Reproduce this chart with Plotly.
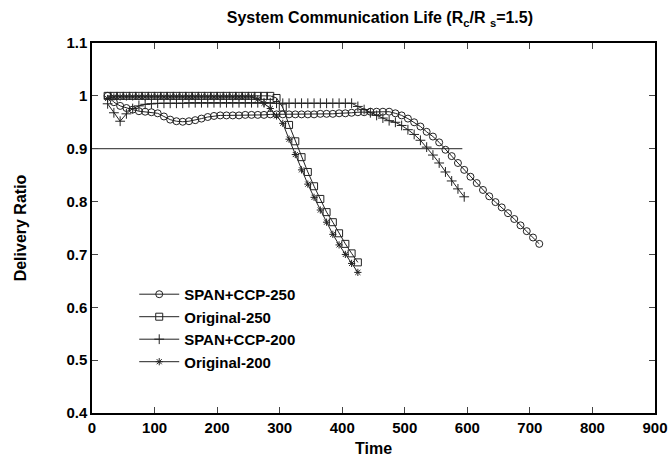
import plotly.graph_objects as go

# time samples and delivery ratios
t_span250 = list(range(25, 716, 10))
span_ccp_250 = [
    1.0, 0.988, 0.981, 0.977, 0.974, 0.971, 0.970, 0.969, 0.967, 0.961,
    0.955, 0.952, 0.951, 0.952, 0.954, 0.957, 0.960, 0.962, 0.963, 0.963,
    0.963, 0.963, 0.964, 0.964, 0.964, 0.964, 0.965, 0.965, 0.965, 0.965,
    0.965, 0.965, 0.965, 0.965, 0.966, 0.966, 0.966, 0.967, 0.967, 0.968,
    0.969, 0.969, 0.970, 0.970, 0.970, 0.970, 0.967, 0.963, 0.957, 0.950,
    0.942, 0.932, 0.923, 0.912, 0.898, 0.886, 0.873, 0.860, 0.847, 0.835,
    0.822, 0.810, 0.799, 0.789, 0.778, 0.767, 0.755, 0.744, 0.732, 0.720,
]

t_orig250 = list(range(25, 426, 10))
original_250 = [
    1.0, 1.0, 1.0, 1.0, 1.0, 1.0, 1.0, 1.0, 1.0, 1.0,
    1.0, 1.0, 1.0, 1.0, 1.0, 1.0, 1.0, 1.0, 1.0, 1.0,
    1.0, 1.0, 1.0, 1.0, 1.0, 1.0, 1.0, 0.996, 0.978, 0.945,
    0.914, 0.884, 0.856, 0.829, 0.805, 0.780, 0.761, 0.740, 0.720, 0.702,
    0.685,
]

t_span200 = list(range(25, 596, 10))
span_ccp_200 = [
    0.985, 0.968, 0.952, 0.966, 0.976, 0.981, 0.984, 0.985, 0.986, 0.986,
    0.986, 0.986, 0.986, 0.987, 0.987, 0.987, 0.987, 0.987, 0.987, 0.987,
    0.987, 0.987, 0.987, 0.987, 0.987, 0.987, 0.987, 0.986, 0.986, 0.986,
    0.986, 0.986, 0.986, 0.986, 0.986, 0.986, 0.986, 0.986, 0.986, 0.986,
    0.980, 0.974, 0.968, 0.963, 0.958, 0.953, 0.950, 0.944, 0.936, 0.927,
    0.916, 0.903, 0.888, 0.873, 0.856, 0.839, 0.824, 0.809,
]

t_orig200 = list(range(25, 426, 10))
original_200 = [
    0.995, 0.998, 0.998, 0.998, 0.998, 0.998, 0.998, 0.998, 0.998, 0.998,
    0.998, 0.998, 0.998, 0.998, 0.998, 0.998, 0.998, 0.998, 0.998, 0.998,
    0.998, 0.998, 0.998, 0.998, 0.994, 0.986, 0.976, 0.962, 0.948, 0.918,
    0.889, 0.860, 0.833, 0.808, 0.784, 0.761, 0.738, 0.718, 0.700, 0.683,
    0.666,
]

# 0.9 threshold line
t_threshold = [0, 592]
threshold = [0.9, 0.9]

font_family = "Liberation Sans, Arial, sans-serif"
ink = '#222222'

fig = go.Figure()

series = [
    ("SPAN+CCP-250", t_span250, span_ccp_250, 'circle-open', 7),
    ("Original-250", t_orig250, original_250, 'square-open', 7),
    ("SPAN+CCP-200", t_span200, span_ccp_200, 'cross-thin-open', 7),
    ("Original-200", t_orig200, original_200, 'asterisk-open', 6),
]

for name, x, y, symbol, size in series:
    fig.add_trace(
        go.Scatter(x=x,
                   y=y,
                   name=name,
                   mode='lines+markers',
                   line=dict(color=ink, width=1),
                   marker=dict(symbol=symbol, size=size, color=ink,
                               line=dict(color=ink, width=1))))

fig.add_trace(
    go.Scatter(x=t_threshold,
               y=threshold,
               mode='lines',
               line=dict(color=ink, width=1),
               showlegend=False,
               hoverinfo='skip'))

fig.update_layout(
    width=670,
    height=468,
    margin=dict(l=92, r=15, t=43, b=55, autoexpand=False),
    paper_bgcolor='white',
    plot_bgcolor='white',
    font=dict(family=font_family, size=15, color='black', weight='bold'),
    title=dict(text="System Communication Life (R<sub>c</sub>/R <sub>s</sub>=1.5)",
               x=0.567, xanchor='center', y=0.962, yanchor='middle',
               font=dict(size=16, weight='bold')),
    legend=dict(x=0.075, y=0.365, xanchor='left', yanchor='top',
                bgcolor='rgba(0,0,0,0)', tracegroupgap=0,
                font=dict(size=15, weight='bold'),
                itemwidth=40),
)

fig.update_xaxes(range=[0, 900], dtick=100, ticks='inside', ticklen=6,
                 showline=True, linecolor='black', linewidth=1.5,
                 mirror='ticks', showgrid=False, zeroline=False,
                 automargin=False,
                 title=dict(text='Time', standoff=8, font=dict(size=16)))
fig.update_yaxes(range=[0.4, 1.1], dtick=0.1, ticks='inside', ticklen=6,
                 showline=True, linecolor='black', linewidth=1.5,
                 mirror='ticks', showgrid=False, zeroline=False,
                 automargin=False,
                 title=dict(text='Delivery Ratio', standoff=36,
                            font=dict(size=16)))

# drop the default body margin so the figure fills the window exactly
fig.write_html("out.html",
               config={'displayModeBar': False},
               post_script="document.body.style.margin='0px';"
                           "document.body.style.overflow='hidden';")
